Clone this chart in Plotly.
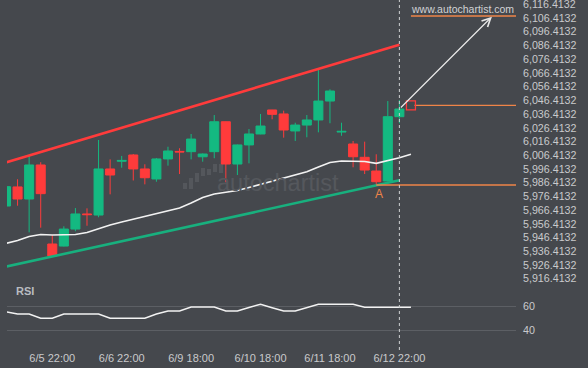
import plotly.graph_objects as go

# ---------------- data ----------------
candle_index = list(range(35))
opens = [5969.4, 5983.3, 5974.5, 5999.3, 5941.7, 5940.2, 5952.6, 5963.6, 5962.8, 5996.4,
         6002.0, 6006.6, 5996.4, 5989.1, 6003.7, 6009.2, 6009.0, 6005.3, 6009.0, 6030.8,
         6000.0, 6013.9, 6021.9, 6039.4, 6036.5, 6024.1, 6028.4, 6032.1, 6045.9, 6023.3,
         6014.6, 6004.9, 5994.9, 5987.6, 6034.5]
highs = [5984.0, 5988.9, 6005.9, 6001.3, 5948.1, 5954.6, 5967.9, 5967.7, 6017.5, 6003.4,
         6005.9, 6007.3, 5999.8, 6004.4, 6012.6, 6011.5, 6021.9, 6007.7, 6035.7, 6031.0,
         6014.2, 6025.5, 6036.5, 6039.5, 6038.9, 6030.1, 6035.7, 6068.5, 6054.5, 6030.1,
         6016.8, 6016.3, 6007.1, 6045.9, 6046.7]
lows = [5968.9, 5969.6, 5950.2, 5953.6, 5932.6, 5939.9, 5951.0, 5955.0, 5961.2, 5977.9,
        5997.3, 5988.0, 5985.2, 5987.1, 5998.8, 5992.7, 6003.4, 6001.7, 6004.2, 5986.7,
        5992.0, 6000.5, 6021.7, 6032.6, 6019.2, 6016.8, 6019.5, 6023.1, 6029.7, 6020.6,
        5997.6, 5992.7, 5985.4, 5987.2, 6029.7]
closes = [5983.5, 5974.5, 5999.3, 5978.4, 5933.0, 5952.6, 5963.6, 5963.1, 5996.4, 5992.0,
          6002.6, 5996.4, 5990.0, 6003.7, 6009.5, 6008.8, 6018.2, 6007.3, 6030.8, 6000.0,
          6013.9, 6021.9, 6027.7, 6036.2, 6024.8, 6028.4, 6032.1, 6045.9, 6053.2, 6023.8,
          6005.3, 5995.6, 5987.1, 6034.5, 6040.1]

line_index = list(range(36))
ma_values = [5942.1, 5944.3, 5947.2, 5948.6, 5948.3, 5948.3, 5948.6, 5950.1, 5952.8, 5955.6,
             5957.7, 5959.7, 5961.4, 5963.6, 5965.5, 5967.9, 5971.6, 5975.6, 5978.1, 5979.4,
             5980.7, 5982.9, 5985.1, 5987.6, 5989.7, 5991.8, 5994.4, 5997.8, 6001.1, 6002.2,
             6002.2, 6001.8, 6000.5, 6002.4, 6004.6, 6007.1]
rsi_values = [55.5, 53.6, 53.6, 50.0, 50.0, 53.6, 53.6, 53.6, 53.6, 50.0,
              50.0, 50.0, 50.0, 53.6, 56.1, 56.1, 59.4, 59.4, 59.4, 56.1,
              56.1, 59.0, 61.7, 58.8, 56.1, 56.1, 59.0, 61.7, 61.7, 61.7,
              61.7, 59.2, 59.2, 59.2, 59.2, 59.2]

tick_positions = [4, 10, 16, 22, 28, 34]
tick_labels = ["6/5 22:00", "6/6 22:00", "6/9 18:00", "6/10 18:00", "6/11 18:00", "6/12 22:00"]
price_ticks = [5916.4132 + 10 * k for k in range(21)]
price_tick_labels = [f"{v:,.4f}" for v in price_ticks]
rsi_ticks = [40, 60]
rsi_tick_labels = ["40", "60"]

channel_x = [0, 34]
upper_channel = [6001.1, 6087.0]
lower_channel = [5925.2, 5988.1]
target_price = 6107.9
entry_price = 6042.8
support_price = 5984.7
support_start = 32
entry_start = 35.3
target_start = 35
marker_x = 35
arrow_start = (34, 6040.1)
arrow_end = (42, 6107.4)
now_index = 34

# ---------------- style ----------------
BG = "#45484d"
GREEN = "#14b981"
RED = "#ff3b3b"
ORANGE = "#ef8448"
TXT = "#c9cacc"
FONT = "Liberation Sans, Arial, sans-serif"

X_RANGE = [0.0864, 44.08]
Y_RANGE = [5912.55, 6119.55]
RSI_RANGE = [27.75, 77.75]

fig = go.Figure()

fig.add_trace(go.Candlestick(
    x=candle_index, open=opens, high=highs, low=lows, close=closes,
    increasing=dict(line=dict(color=GREEN, width=1), fillcolor=GREEN),
    decreasing=dict(line=dict(color=RED, width=1), fillcolor=RED),
    whiskerwidth=0, xaxis="x", yaxis="y", showlegend=False, hoverinfo="skip"))

fig.add_trace(go.Scatter(x=line_index, y=ma_values, mode="lines",
                         line=dict(color="#f2f2f2", width=1.6),
                         xaxis="x", yaxis="y", showlegend=False, hoverinfo="skip"))

fig.add_trace(go.Scatter(x=channel_x, y=upper_channel, mode="lines",
                         line=dict(color=RED, width=2.6),
                         xaxis="x", yaxis="y", showlegend=False, hoverinfo="skip"))
fig.add_trace(go.Scatter(x=channel_x, y=lower_channel, mode="lines",
                         line=dict(color="#18b07e", width=2.6),
                         xaxis="x", yaxis="y", showlegend=False, hoverinfo="skip"))

for xs, yv in [(target_start, target_price), (entry_start, entry_price), (support_start, support_price)]:
    fig.add_trace(go.Scatter(x=[xs, X_RANGE[1]], y=[yv, yv], mode="lines",
                             line=dict(color=ORANGE, width=1.3),
                             xaxis="x", yaxis="y", showlegend=False, hoverinfo="skip"))

fig.add_trace(go.Scatter(x=[marker_x], y=[entry_price], mode="markers",
                         marker=dict(symbol="square-open", size=9, color=RED,
                                     line=dict(width=1.3, color=RED)),
                         xaxis="x", yaxis="y", showlegend=False, hoverinfo="skip"))

fig.add_trace(go.Scatter(x=line_index, y=rsi_values, mode="lines",
                         line=dict(color="#f2f2f2", width=1.5),
                         xaxis="x", yaxis="y2", showlegend=False, hoverinfo="skip"))

# ---------------- decorations ----------------
PLOT_L, PLOT_R, PLOT_H = 7, 516, 345


def px_x(p):
    return (p - PLOT_L) / (PLOT_R - PLOT_L)


def px_y(p):
    return (PLOT_H - p) / PLOT_H


shapes = [dict(type="line", xref="x", yref="paper", x0=now_index, x1=now_index,
               y0=px_y(350), y1=1, line=dict(color="#cfd0d2", width=1, dash="3px,3px"),
               layer="above")]

icon_bars = [(183, 187, 183, 189), (189, 193, 178, 189), (195, 199, 173, 182),
             (201, 205, 168, 176), (207, 211, 169, 175), (213, 217, 164, 172),
             (219, 223, 164, 173)]
for x0, x1, y0, y1 in icon_bars:
    shapes.append(dict(type="rect", xref="paper", yref="paper",
                       x0=px_x(x0), x1=px_x(x1), y0=px_y(y1), y1=px_y(y0),
                       fillcolor="#54575c", line=dict(width=0), layer="below"))

annotations = [
    dict(text="autochartist", xref="paper", yref="paper", x=px_x(278), y=px_y(183),
         showarrow=False, font=dict(family=FONT, size=23.5, color="#55585d"),
         xanchor="center", yanchor="middle"),
    dict(text="www.autochartist.com", xref="paper", yref="y", x=px_x(462), y=target_price,
         showarrow=False, font=dict(family=FONT, size=10.5, color="#d2d3d5"),
         xanchor="center", yanchor="bottom", yshift=-1),
    dict(text="A", xref="x", yref="y", x=support_start + 0.25, y=support_price,
         showarrow=False, font=dict(family=FONT, size=12, color=ORANGE),
         xanchor="center", yanchor="top"),
    dict(text="<b>RSI</b>", xref="paper", yref="paper", x=px_x(14), y=px_y(291),
         showarrow=False, font=dict(family=FONT, size=11, color="#b9bcc0"),
         xanchor="left", yanchor="middle"),
    dict(text="", xref="x", yref="y", x=arrow_end[0], y=arrow_end[1],
         axref="x", ayref="y", ax=arrow_start[0], ay=arrow_start[1],
         showarrow=True, arrowhead=5, arrowsize=1.4, arrowwidth=1.2,
         arrowcolor="#e8e8e8", standoff=0, startstandoff=0),
]

fig.update_layout(
    template="none",
    width=588, height=368,
    margin=dict(l=PLOT_L, r=588 - PLOT_R, t=0, b=368 - PLOT_H, pad=0, autoexpand=False),
    paper_bgcolor=BG, plot_bgcolor=BG,
    boxgap=0.22, boxgroupgap=0,
    showlegend=False,
    font=dict(family=FONT, color=TXT, size=11),
    xaxis=dict(domain=[0, 1], anchor="y2", range=X_RANGE, tickvals=tick_positions,
               ticktext=tick_labels, showgrid=False, zeroline=False, showline=False,
               ticks="", tickfont=dict(family=FONT, size=11, color=TXT), automargin=False,
               rangeslider=dict(visible=False), ticklabelstandoff=5,
               ticklabeloverflow="allow"),
    yaxis=dict(domain=[(PLOT_H - 284) / PLOT_H, 1], anchor="x", side="right",
               range=Y_RANGE, tickvals=price_ticks, ticktext=price_tick_labels,
               showgrid=False, zeroline=False, showline=False, ticks="", automargin=False,
               tickfont=dict(family=FONT, size=10.7, color=TXT), ticklabelstandoff=6,
               ticklabeloverflow="allow"),
    yaxis2=dict(domain=[0, 60 / PLOT_H], anchor="x", side="right", range=RSI_RANGE,
                tickvals=rsi_ticks, ticktext=rsi_tick_labels, showgrid=True,
                gridcolor="#5c5f64", gridwidth=1, zeroline=False, showline=False,
                ticks="", tickfont=dict(family=FONT, size=10.7, color=TXT),
                ticklabelstandoff=6, automargin=False, ticklabeloverflow="allow"),
    shapes=shapes,
    annotations=annotations,
)

fig.write_html(
    "out.html",
    config={"displayModeBar": False, "staticPlot": True},
    post_script="document.body.style.margin='0px';document.body.style.padding='0px';"
                "document.body.style.background='#45484d';document.body.style.overflow='hidden';",
)
